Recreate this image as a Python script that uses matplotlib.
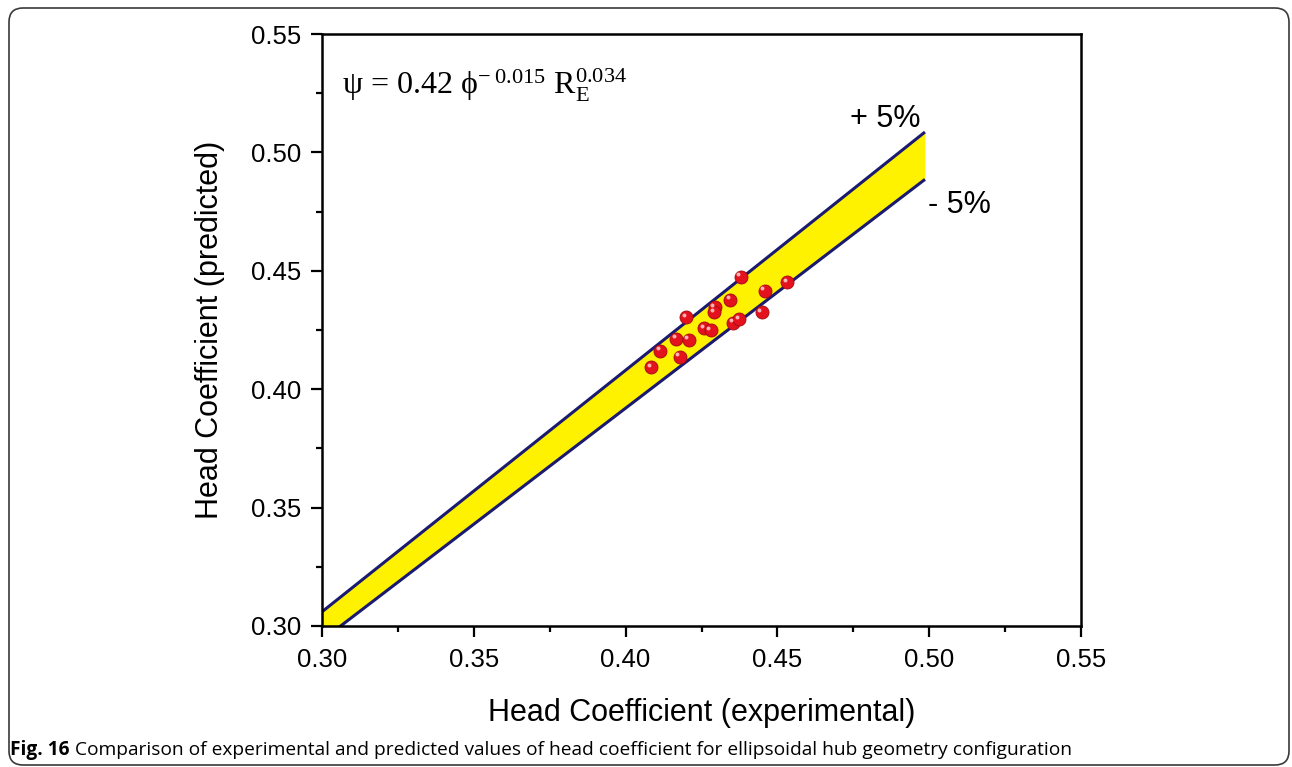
import matplotlib
matplotlib.use("Agg")
import matplotlib.pyplot as plt
import numpy as np
from matplotlib.patches import FancyBboxPatch
from matplotlib.transforms import IdentityTransform, ScaledTranslation
from matplotlib.ticker import MultipleLocator, FormatStrFormatter

# ---- data ----
exp_vals = [0.4085, 0.4114, 0.4178, 0.4167, 0.4208, 0.4200, 0.4259, 0.4281, 0.4294,
            0.4292, 0.4345, 0.4355, 0.4375, 0.4379, 0.4459, 0.4448, 0.4533]
pred_vals = [0.4092, 0.4163, 0.4137, 0.4212, 0.4209, 0.4304, 0.4258, 0.4250, 0.4346,
             0.4325, 0.4377, 0.4280, 0.4296, 0.4475, 0.4416, 0.4325, 0.4451]
band_x = [0.30, 0.4986]
band_upper = [0.3060, 0.5086]
band_lower = [0.2940, 0.4886]
upper_label = "+ 5%"
lower_label = "- 5%"
x_label = "Head Coefficient (experimental)"
y_label = "Head Coefficient (predicted)"
caption_bold = "Fig. 16"
caption_text = " Comparison of experimental and predicted values of head coefficient for ellipsoidal hub geometry configuration"

W, H = 1292, 767
fig = plt.figure(figsize=(W / 100, H / 100), dpi=100)
fig.patch.set_facecolor("white")

# outer rounded frame
frame = FancyBboxPatch((9, 2), 1280, 757, boxstyle="round,pad=0,rounding_size=14",
                       transform=IdentityTransform(), facecolor="none",
                       edgecolor="#3a3a3a", linewidth=1.2)
fig.patches.append(frame)

ax = fig.add_axes([322 / W, 1 - 626 / H, (1081 - 322) / W, (626 - 34) / H])
sans = ["Liberation Sans", "DejaVu Sans"]

ax.fill_between(band_x, band_lower, band_upper, color="#FFF200", linewidth=0, zorder=1)
ax.plot(band_x, band_upper, color="#1a1a70", lw=2.2, zorder=2, solid_capstyle="butt")
ax.plot(band_x, band_lower, color="#1a1a70", lw=2.2, zorder=2, solid_capstyle="butt")

ax.scatter(exp_vals, pred_vals, s=88, c="#e3121c", edgecolors="#a00a10",
           linewidths=0.6, zorder=3)
hl = ScaledTranslation(-1.8 / 72, 1.8 / 72, fig.dpi_scale_trans)
ax.scatter(exp_vals, pred_vals, s=8, c="#ffb4b4", linewidths=0,
           zorder=4, transform=ax.transData + hl)

ax.set_xlim(0.30, 0.55)
ax.set_ylim(0.30, 0.55)
ax.xaxis.set_major_locator(MultipleLocator(0.05))
ax.yaxis.set_major_locator(MultipleLocator(0.05))
ax.xaxis.set_minor_locator(MultipleLocator(0.025))
ax.yaxis.set_minor_locator(MultipleLocator(0.025))
ax.xaxis.set_major_formatter(FormatStrFormatter("%.2f"))
ax.yaxis.set_major_formatter(FormatStrFormatter("%.2f"))
ax.tick_params(which="both", direction="out", top=False, right=False, width=1.6, colors="black")
ax.tick_params(which="major", length=7.7)
ax.tick_params(which="minor", length=4.3)
ax.tick_params(axis="y", which="major", pad=7)
ax.tick_params(axis="x", which="major", pad=8)
for lab in ax.get_xticklabels() + ax.get_yticklabels():
    lab.set_fontfamily(sans)
    lab.set_fontsize(18.5)
for sp in ax.spines.values():
    sp.set_linewidth(1.8)
    sp.set_color("black")

ax.set_xlabel(x_label, fontsize=22, family=sans, labelpad=19)
ax.set_ylabel(y_label, fontsize=22, family=sans, labelpad=19)

ax.text(0.4739, 0.5107, upper_label, fontsize=22, family=sans, va="baseline", ha="left")
ax.text(0.4996, 0.4743, lower_label, fontsize=22, family=sans, va="baseline", ha="left")

plt.rcParams["mathtext.fontset"] = "custom"
plt.rcParams["mathtext.rm"] = "Liberation Serif"
plt.rcParams["mathtext.it"] = "Liberation Serif:italic"
ax.text(0.026, 0.898, "ψ = 0.42 ϕ$^{-\\;0.015}$ R$_{\\mathrm{E}}^{0.034}$",
        transform=ax.transAxes, fontsize=23, family=["Liberation Serif", "DejaVu Serif"],
        va="baseline", ha="left")

# caption
t1 = fig.text(10 / W, 1 - 755 / H, caption_bold, fontsize=13.8, fontweight="bold",
              family=["Open Sans", "DejaVu Sans"], va="baseline", ha="left")
renderer = fig.canvas.get_renderer()
bb = t1.get_window_extent(renderer=renderer)
fig.text(bb.x1 / W, 1 - 755 / H, caption_text, fontsize=13.8,
         family=["Open Sans", "DejaVu Sans"], va="baseline", ha="left")

fig.savefig("out.png", dpi=100, facecolor="white")
